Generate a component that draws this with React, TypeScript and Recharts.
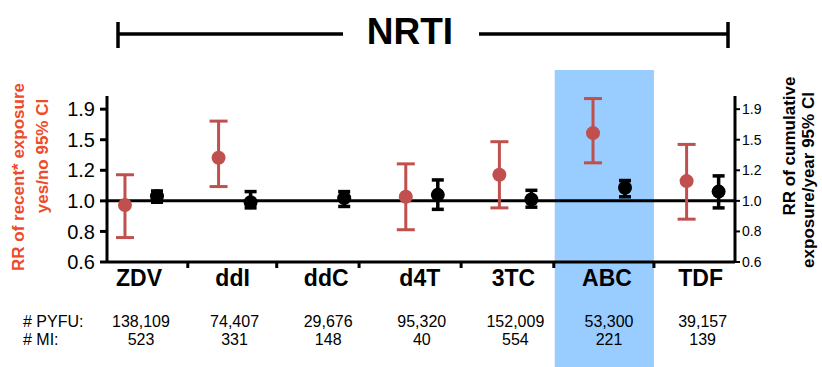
import React from 'react';
import {
  ScatterChart,
  Scatter,
  XAxis,
  YAxis,
  ErrorBar,
  ReferenceLine,
  ReferenceArea,
} from 'recharts';

const categories = ['ZDV', 'ddI', 'ddC', 'd4T', '3TC', 'ABC', 'TDF'];

// RR of recent exposure (yes/no) with 95% CI
const recentRR = [0.97, 1.37, null, 1.03, 1.21, 1.64, 1.155];
const recentLow = [0.765, 1.11, null, 0.81, 0.95, 1.32, 0.875];
const recentHigh = [1.21, 1.79, null, 1.31, 1.54, 2.11, 1.51];

// RR of cumulative exposure per year with 95% CI
const cumRR = [1.035, 0.99, 1.02, 1.045, 1.01, 1.1, 1.07];
const cumLow = [0.99, 0.95, 0.96, 0.94, 0.955, 1.03, 0.95];
const cumHigh = [1.075, 1.07, 1.07, 1.165, 1.08, 1.16, 1.2];

const pyfu = ['138,109', '74,407', '29,676', '95,320', '152,009', '53,300', '39,157'];
const mi = ['523', '331', '148', '40', '554', '221', '139'];

const yTickValues = [0.64, 0.8, 1.0, 1.25, 1.5625, 1.953];
const yTickLabels = ['0.6', '0.8', '1.0', '1.2', '1.5', '1.9'];
const dividerTicks = [0.5, 1.45, 2.33, 3.42, 4.41, 5.48];

const highlightIndex = categories.indexOf('ABC');

const RED = '#c0504d';
const LABEL_RED = '#ee4b2b';
const FONT = '"Liberation Sans", Arial, sans-serif';
const PAIR_OFFSET = 0.171;

const recentData = categories
  .map((c, i) => ({
    name: c,
    x: i - PAIR_OFFSET,
    y: recentRR[i],
    err: recentRR[i] == null ? null : [recentRR[i]! - recentLow[i]!, recentHigh[i]! - recentRR[i]!],
  }))
  .filter((d) => d.y != null);

const cumData = categories.map((c, i) => ({
  name: c,
  x: i + PAIR_OFFSET,
  y: cumRR[i],
  err: [cumRR[i] - cumLow[i], cumHigh[i] - cumRR[i]],
}));

const fmtY = (v: number) => {
  const idx = yTickValues.indexOf(v);
  return idx >= 0 ? yTickLabels[idx] : String(v);
};

const CategoryTick = (props: any) => {
  const { x, y, payload } = props;
  const v = payload.value;
  if (Number.isInteger(v)) {
    return (
      <g fontFamily={FONT}>
        <text x={x - 2} y={y + 24} textAnchor="middle" fontSize={23} fontWeight="bold" fill="#000">
          {categories[v]}
        </text>
        <text x={x} y={y + 65} textAnchor="middle" fontSize={16} fill="#000">
          {pyfu[v]}
        </text>
        <text x={x} y={y + 83} textAnchor="middle" fontSize={16} fill="#000">
          {mi[v]}
        </text>
      </g>
    );
  }
  return <line x1={x} y1={y} x2={x} y2={y + 6} stroke="#000" strokeWidth={3} />;
};

const Dot = (color: string) => (props: any) =>
  <circle cx={props.cx} cy={props.cy} r={7} fill={color} />;

export default function App() {
  return (
    <div style={{ position: 'relative', width: 822, height: 367, background: '#fff' }}>
      <style>{'body{margin:0}'}</style>
      <ScatterChart width={822} height={367} margin={{ top: 96, right: 0, left: 0, bottom: 0 }}>
        <ReferenceArea
          yAxisId="left"
          x1={highlightIndex - 0.58}
          x2={highlightIndex + 0.48}
          y1={0.297}
          y2={2.6}
          fill="#99ccff"
          fillOpacity={1}
          stroke="none"
          ifOverflow="visible"
        />
        <XAxis
          type="number"
          dataKey="x"
          domain={[-0.363, 6.346]}
          allowDataOverflow
          ticks={[...categories.map((_, i) => i), ...dividerTicks]}
          interval={0}
          tick={<CategoryTick />}
          tickLine={false}
          tickSize={0}
          tickMargin={0}
          height={105}
          axisLine={{ stroke: '#000', strokeWidth: 3 }}
        />
        <YAxis
          yAxisId="left"
          type="number"
          dataKey="y"
          scale="log"
          domain={[0.64, 2.15]}
          allowDataOverflow
          ticks={yTickValues}
          tickFormatter={fmtY}
          width={107}
          tickSize={7}
          tickMargin={5}
          tick={{ fontSize: 20, fill: '#000', fontFamily: FONT }}
          tickLine={{ stroke: '#000', strokeWidth: 3 }}
          axisLine={{ stroke: '#000', strokeWidth: 3 }}
        />
        <YAxis
          yAxisId="right"
          orientation="right"
          type="number"
          dataKey="y"
          scale="log"
          domain={[0.64, 2.15]}
          allowDataOverflow
          ticks={yTickValues}
          tickFormatter={fmtY}
          width={87}
          tickSize={5}
          tickMargin={2}
          tick={{ fontSize: 14, fill: '#000', fontFamily: FONT }}
          tickLine={{ stroke: '#000', strokeWidth: 2 }}
          axisLine={{ stroke: '#000', strokeWidth: 3 }}
        />
        <ReferenceLine yAxisId="left" y={1} stroke="#000" strokeWidth={3} />
        <Scatter
          yAxisId="left"
          data={recentData}
          dataKey="y"
          shape={Dot(RED)}
          isAnimationActive={false}
        >
          <ErrorBar dataKey="err" direction="y" width={9} stroke={RED} strokeWidth={3} />
        </Scatter>
        <Scatter
          yAxisId="right"
          data={cumData}
          dataKey="y"
          shape={Dot('#000')}
          isAnimationActive={false}
        >
          <ErrorBar dataKey="err" direction="y" width={6} stroke="#000" strokeWidth={3.5} />
        </Scatter>
      </ScatterChart>
      <svg
        width={822}
        height={367}
        style={{ position: 'absolute', left: 0, top: 0, pointerEvents: 'none' }}
        fontFamily={FONT}
      >
        <line x1={118} y1={34} x2={343} y2={34} stroke="#000" strokeWidth={3.5} />
        <line x1={118} y1={22} x2={118} y2={48} stroke="#000" strokeWidth={3.5} />
        <line x1={479} y1={34} x2={728} y2={34} stroke="#000" strokeWidth={3.5} />
        <line x1={728} y1={22} x2={728} y2={48} stroke="#000" strokeWidth={3.5} />
        <text x={410} y={44} textAnchor="middle" fontSize={37} fontWeight="bold" fill="#000">
          NRTI
        </text>
        <g fill={LABEL_RED} fontSize={17} fontWeight="bold">
          <text transform="translate(24,177) rotate(-90)" textAnchor="middle">
            RR of recent* exposure
          </text>
          <text transform="translate(48,156) rotate(-90)" textAnchor="middle">
            yes/no 95% CI
          </text>
        </g>
        <g fill="#000" fontSize={17} fontWeight="bold">
          <text transform="translate(795,146) rotate(-90)" textAnchor="middle">
            RR of cumulative
          </text>
          <text transform="translate(814,180) rotate(-90)" textAnchor="middle">
            exposure/year 95% CI
          </text>
        </g>
        <text x={23} y={327} fontSize={16} fill="#000">
          # PYFU:
        </text>
        <text x={23} y={345} fontSize={16} fill="#000">
          # MI:
        </text>
      </svg>
    </div>
  );
}
